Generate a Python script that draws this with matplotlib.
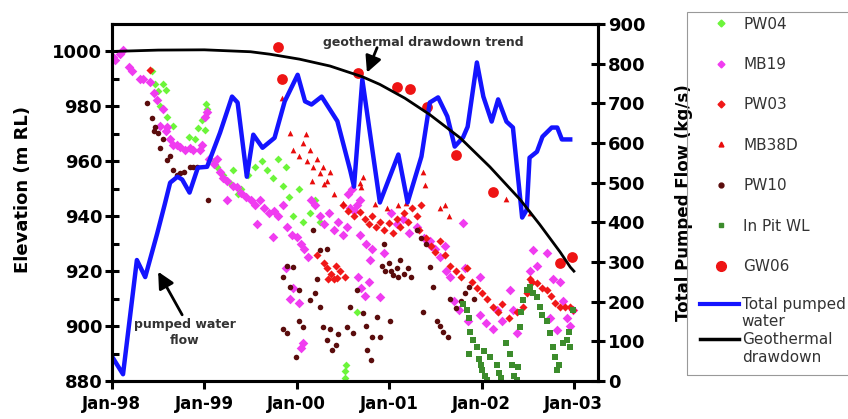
import matplotlib
matplotlib.use("Agg")
import matplotlib.pyplot as plt
import numpy as np
from matplotlib.lines import Line2D
from matplotlib.patches import Rectangle

# water levels, (decimal year, elevation m RL)
pw04 = [(1998.43, 993), (1998.47, 988), (1998.50, 985.5), (1998.55, 988), (1998.58, 986), (1998.52, 980),
        (1998.60, 976), (1998.66, 973), (1998.83, 969), (1998.90, 968), (1998.93, 972), (1998.98, 975),
        (1999.01, 971.5), (1999.03, 979), (1999.02, 981), (1999.10, 960), (1999.14, 958), (1999.20, 955),
        (1999.28, 952), (1999.31, 957), (1999.36, 948), (1999.40, 950), (1999.47, 955), (1999.55, 958),
        (1999.62, 960), (1999.68, 957), (1999.74, 954), (1999.80, 961), (1999.88, 958), (1999.85, 951),
        (1999.92, 947), (1999.96, 940), (2000.02, 950), (2000.07, 938), (2000.14, 941), (2000.20, 946),
        (2000.25, 938), (2000.52, 881), (2000.52, 883.5), (2000.53, 886), (2000.65, 905)]

mb19 = [(1998.01, 998), (1998.03, 997), (1998.09, 999), (1998.12, 1000.7), (1998.19, 994.5), (1998.22, 993),
        (1998.30, 989.8), (1998.34, 990), (1998.41, 988.7), (1998.45, 985), (1998.49, 982.5), (1998.55, 979),
        (1998.52, 973), (1998.58, 971), (1998.60, 972.6), (1998.63, 968), (1998.66, 966), (1998.70, 966),
        (1998.74, 965.3), (1998.79, 964), (1998.84, 965), (1998.88, 964), (1998.95, 964), (1998.97, 966),
        (1999.01, 976), (1999.03, 978), (1999.05, 961), (1999.10, 959), (1999.14, 961), (1999.17, 956),
        (1999.20, 954), (1999.25, 953), (1999.24, 946), (1999.31, 951), (1999.35, 950.8), (1999.40, 948.6),
        (1999.45, 947), (1999.50, 946), (1999.55, 944), (1999.60, 946), (1999.57, 937), (1999.65, 943),
        (1999.70, 941), (1999.75, 942), (1999.74, 932.5), (1999.80, 940), (1999.85, 944), (1999.88, 921),
        (1999.90, 936), (1999.93, 910), (1999.95, 933), (1999.96, 914), (2000.00, 932.5), (2000.03, 908.5),
        (2000.05, 892), (2000.07, 894), (2000.05, 930), (2000.08, 928), (2000.12, 925), (2000.15, 946),
        (2000.20, 944), (2000.25, 940), (2000.30, 937), (2000.35, 941), (2000.40, 935), (2000.45, 938),
        (2000.50, 933), (2000.54, 936), (2000.55, 948), (2000.58, 943), (2000.60, 950), (2000.62, 942),
        (2000.65, 944), (2000.68, 946), (2000.66, 918), (2000.70, 914), (2000.74, 911), (2000.78, 916),
        (2000.68, 933), (2000.75, 930), (2000.79, 924), (2000.82, 928), (2000.90, 910.6), (2000.95, 926.7),
        (2001.02, 941), (2001.08, 937), (2001.15, 939), (2001.22, 934), (2001.30, 936), (2001.38, 932),
        (2001.44, 931), (2001.45, 929), (2001.50, 928), (2001.55, 925), (2001.60, 929), (2001.62, 920),
        (2001.66, 918), (2001.70, 909), (2001.76, 906), (2001.80, 937.6), (2001.82, 921), (2001.85, 902),
        (2001.98, 918), (2001.98, 904), (2002.05, 901), (2002.12, 899), (2002.17, 906), (2002.22, 902),
        (2002.31, 913), (2002.34, 906), (2002.38, 897.5), (2002.52, 920), (2002.56, 927.8), (2002.60, 922),
        (2002.71, 926.7), (2002.74, 903), (2002.77, 917), (2002.82, 898.6), (2002.85, 916), (2002.88, 909),
        (2002.92, 903), (2002.96, 900), (2002.99, 906)]

pw03 = [(1998.41, 993.4), (2000.50, 944), (2000.55, 942), (2000.62, 940), (2000.68, 941.5), (2000.74, 939),
        (2000.78, 937), (2000.82, 940), (2000.86, 936), (2000.90, 938), (2000.95, 935), (2001.00, 937.5),
        (2001.04, 934), (2001.08, 939), (2001.12, 936), (2001.16, 941), (2001.20, 938), (2001.25, 943),
        (2001.30, 940), (2001.34, 944), (2001.32, 935), (2001.40, 932), (2001.45, 929), (2001.50, 927),
        (2001.55, 931), (2001.60, 926), (2001.66, 922), (2001.72, 920), (2001.78, 918), (2001.84, 921),
        (2001.90, 916), (2001.95, 914), (2002.00, 912), (2002.06, 910), (2002.12, 907), (2002.18, 905),
        (2002.22, 908), (2002.30, 903), (2002.38, 905), (2002.45, 907), (2002.49, 912), (2002.52, 917),
        (2002.55, 916), (2002.60, 915.7), (2002.65, 914), (2002.71, 913), (2002.75, 911), (2002.80, 908.4),
        (2002.85, 907), (2002.90, 907), (2002.96, 907), (2002.99, 906), (2000.30, 923), (2000.33, 921),
        (2000.37, 919), (2000.40, 917), (2000.44, 917.5), (2000.34, 917), (2000.42, 922), (2000.47, 920),
        (2000.52, 918), (2000.22, 926)]

mb38d = [(1999.84, 983), (1999.93, 970.4), (1999.96, 964.2), (2000.03, 962), (2000.07, 966.8), (2000.10, 970),
         (2000.11, 960), (2000.14, 964), (2000.18, 958), (2000.22, 961), (2000.25, 955.9), (2000.28, 957.9),
         (2000.33, 953), (2000.36, 956), (2000.16, 953), (2000.30, 951.9), (2000.40, 948), (2000.50, 945),
         (2000.68, 952), (2000.70, 950.8), (2000.72, 954.4), (2001.37, 956), (2001.39, 951.5), (2001.55, 943),
         (2001.60, 944), (2001.65, 940), (2002.27, 946.4), (2002.52, 941.3), (2001.10, 944), (2001.18, 945),
         (2000.98, 943), (2000.85, 944.5)]

pw10 = [(1998.38, 981.4), (1998.43, 975.9), (1998.45, 971), (1998.47, 972.6), (1998.50, 970.4), (1998.52, 965),
        (1998.55, 968), (1998.60, 960.6), (1998.63, 962), (1998.66, 957), (1998.70, 955), (1998.74, 955.9),
        (1998.78, 956), (1998.84, 958), (1998.88, 958), (1998.92, 958), (1999.04, 946), (1999.85, 918),
        (1999.89, 922), (1999.93, 914.3), (1999.96, 921.6), (1999.85, 899), (1999.89, 897.5), (1999.99, 888.8),
        (2000.02, 913), (2000.03, 902), (2000.07, 899.7), (2000.14, 909.5), (2000.18, 935), (2000.20, 912),
        (2000.22, 917), (2000.25, 927.8), (2000.25, 907), (2000.28, 899.7), (2000.33, 928), (2000.33, 895),
        (2000.36, 899), (2000.38, 891.3), (2000.42, 893), (2000.45, 897), (2000.54, 899.7), (2000.58, 907),
        (2000.61, 897.5), (2000.65, 913), (2000.72, 904.8), (2000.75, 900), (2000.76, 891.3), (2000.80, 887.7),
        (2000.82, 896), (2000.87, 903.3), (2000.90, 896), (2000.92, 922), (2000.95, 930), (2000.96, 920),
        (2001.00, 923), (2001.01, 902), (2001.02, 920), (2001.04, 918.5), (2001.08, 921), (2001.10, 918),
        (2001.12, 924), (2001.16, 919), (2001.20, 921), (2001.24, 918), (2001.30, 935), (2001.35, 932),
        (2001.37, 905), (2001.40, 930), (2001.44, 921.6), (2001.48, 914.3), (2001.52, 902), (2001.55, 900),
        (2001.58, 898), (2001.64, 896), (2001.66, 910), (2001.72, 906.6), (2001.78, 909), (2001.82, 912),
        (2001.87, 914.3), (2001.92, 910)]

pit_wl = [(2001.80, 908), (2001.84, 906), (2001.87, 903), (2001.88, 898), (2001.91, 895), (2001.87, 890),
          (2001.95, 892.5), (2001.97, 888), (2001.99, 886), (2002.00, 884), (2002.03, 891), (2002.04, 882),
          (2002.06, 880.5), (2002.09, 888.8), (2002.17, 886), (2002.19, 883), (2002.21, 881), (2002.27, 894),
          (2002.31, 890), (2002.33, 886), (2002.35, 882), (2002.38, 880.5), (2002.40, 885), (2002.42, 899.7),
          (2002.43, 905), (2002.45, 909.5), (2002.49, 913), (2002.52, 914.3), (2002.56, 912), (2002.60, 910.6),
          (2002.63, 907), (2002.66, 904), (2002.71, 902), (2002.74, 897.5), (2002.77, 892.5), (2002.80, 888.8),
          (2002.82, 884), (2002.84, 886), (2002.88, 894), (2002.92, 895), (2002.95, 898), (2002.96, 892.5),
          (2002.99, 906)]

gw06 = [(1999.80, 1001.8), (1999.84, 989.8), (2000.66, 992.3), (2001.08, 986.9), (2001.23, 986.2),
        (2001.41, 979.6), (2001.72, 962.4), (2002.12, 949.0), (2002.85, 923.0), (2002.98, 925.2)]

# total pumped flow (kg/s), right axis
flow = [(1998.00, 62), (1998.12, 17), (1998.27, 305), (1998.36, 262), (1998.49, 372), (1998.57, 444),
        (1998.63, 500), (1998.71, 515), (1998.76, 508), (1998.84, 475), (1998.93, 538), (1999.03, 540),
        (1999.17, 626), (1999.30, 717), (1999.36, 702), (1999.46, 515), (1999.53, 621), (1999.63, 588),
        (1999.76, 613), (1999.87, 705), (2000.01, 772), (2000.09, 705), (2000.16, 697), (2000.27, 717),
        (2000.44, 655), (2000.58, 530), (2000.62, 490), (2000.71, 760), (2000.90, 450), (2001.10, 571),
        (2001.20, 450), (2001.35, 566), (2001.44, 702), (2001.53, 715), (2001.63, 667), (2001.71, 591),
        (2001.80, 614), (2001.85, 641), (2001.95, 803), (2002.02, 717), (2002.11, 654), (2002.18, 710),
        (2002.27, 654), (2002.34, 639), (2002.44, 412), (2002.49, 432), (2002.52, 563), (2002.60, 578),
        (2002.66, 616), (2002.76, 639), (2002.82, 639), (2002.87, 609), (2002.96, 609)]

# geothermal drawdown trend (m RL)
trend = [(1998.0, 1000.0), (1998.5, 1000.5), (1999.0, 1000.6), (1999.5, 999.9), (1999.71, 999.0),
         (2000.03, 997.2), (2000.36, 994.7), (2000.71, 990.8), (2000.90, 988.0), (2001.17, 983.0),
         (2001.44, 977.0), (2001.77, 968.5), (2002.09, 958.0), (2002.42, 946.0), (2002.63, 937.0),
         (2002.85, 927.0), (2002.96, 921.5), (2003.0, 920.0)]

xtick_years = [1998, 1999, 2000, 2001, 2002, 2003]
xtick_labels = ["Jan-98", "Jan-99", "Jan-00", "Jan-01", "Jan-02", "Jan-03"]

series = [
    ("PW04", pw04, "D", 16, "#6cf53a"),
    ("MB19", mb19, "D", 24, "#f03cf0"),
    ("PW03", pw03, "D", 17, "#f01818"),
    ("MB38D", mb38d, "^", 17, "#e80c0c"),
    ("PW10", pw10, "o", 16, "#5a0c0c"),
    ("In Pit WL", pit_wl, "s", 14, "#3c8c2c"),
    ("GW06", gw06, "o", 60, "#ee1414"),
]

fig = plt.figure(figsize=(8.48, 4.19), dpi=100)
ax = fig.add_axes([0.132, 0.0907, 0.5731, 0.852])
ax2 = ax.twinx()

for name, pts, mk, sz, col in series:
    a = np.array(pts)
    ax.scatter(a[:, 0], a[:, 1], marker=mk, s=sz, color=col, linewidths=0, zorder=2)

f = np.array(flow)
ax2.plot(f[:, 0], f[:, 1], color="#1414ff", lw=3.2, zorder=2)
t = np.array(trend)
ax2.plot(t[:, 0], t[:, 1], color="black", lw=2, zorder=3, transform=ax.transData)

ax.set_xlim(1998.0, 2003.26)
ax.set_ylim(880, 1010)
ax2.set_ylim(0, 900)

ax.set_xticks(xtick_years, xtick_labels, fontweight="bold", fontsize=12)
ax.set_yticks(range(880, 1001, 20), [str(v) for v in range(880, 1001, 20)], fontweight="bold", fontsize=13)
ax.set_yticks(range(890, 1001, 20), minor=True)
ax2.set_yticks(range(0, 901, 100), [str(v) for v in range(0, 901, 100)], fontweight="bold", fontsize=13)

for s in list(ax.spines.values()) + list(ax2.spines.values()):
    s.set_linewidth(2.2)
ax.tick_params(axis="y", which="major", direction="inout", length=10, width=2.2, pad=2)
ax.tick_params(axis="y", which="minor", direction="in", length=5, width=2.2)
ax.tick_params(axis="x", direction="out", length=6, width=2.2, pad=4)
ax2.tick_params(axis="y", direction="inout", length=10, width=2.2, pad=2)

ax.set_ylabel("Elevation (m RL)", fontsize=13, fontweight="bold")
ax.yaxis.set_label_coords(-0.165, 0.537)
ax2.set_ylabel("Total Pumped Flow (kg/s)", fontsize=12, fontweight="bold")
ax2.yaxis.set_label_coords(1.158, 0.5)

# annotations
ax.text(2001.37, 1003.3, "geothermal drawdown trend", ha="center", va="center",
        fontsize=9, fontweight="bold", color="#333333")
ax.annotate("", xy=(2000.76, 992.3), xytext=(2000.87, 1001.4),
            arrowprops=dict(arrowstyle="-|>,head_width=0.35,head_length=0.7", lw=2, color="black",
                            mutation_scale=14, shrinkA=0, shrinkB=0))
ax.text(1998.79, 897.5, "pumped water\nflow", ha="center", va="center", linespacing=1.3,
        fontsize=9, fontweight="bold", color="#333333")
ax.annotate("", xy=(1998.50, 919.8), xytext=(1998.76, 904.1),
            arrowprops=dict(arrowstyle="-|>,head_width=0.35,head_length=0.7", lw=2, color="black",
                            mutation_scale=14, shrinkA=0, shrinkB=0))

# legend
handles = [Line2D([], [], ls="none", marker=mk, ms=(3.5 if name != "GW06" else 7), color=col)
           for name, pts, mk, sz, col in series]
leg1 = fig.legend(handles, [s[0] for s in series], loc="upper left",
                  bbox_to_anchor=(698 / 848, 1 - 3 / 419), frameon=False, fontsize=11,
                  labelspacing=1.66, handlelength=1.2, handletextpad=0.85, borderpad=0.4)
line_handles = [Line2D([], [], color="#1414ff", lw=3), Line2D([], [], color="black", lw=2.5)]
leg2 = fig.legend(line_handles, ["Total pumped\nwater", "Geothermal\ndrawdown"], loc="upper left",
                  bbox_to_anchor=(686 / 848, 1 - 283 / 419), frameon=False, fontsize=11,
                  labelspacing=0.2, handlelength=2.6, handletextpad=0.15, borderpad=0.4)
for leg in (leg1, leg2):
    for txt in leg.get_texts():
        txt.set_color("#333333")
for ln in leg2.get_lines():
    ln.set_ydata(np.asarray(ln.get_ydata()) + 7)
fig.add_artist(Rectangle((687 / 848, 1 - 375 / 419), 0.3, 363 / 419, transform=fig.transFigure,
                         fill=False, ec="#999999", lw=0.8))

fig.savefig("out.png", dpi=100)
